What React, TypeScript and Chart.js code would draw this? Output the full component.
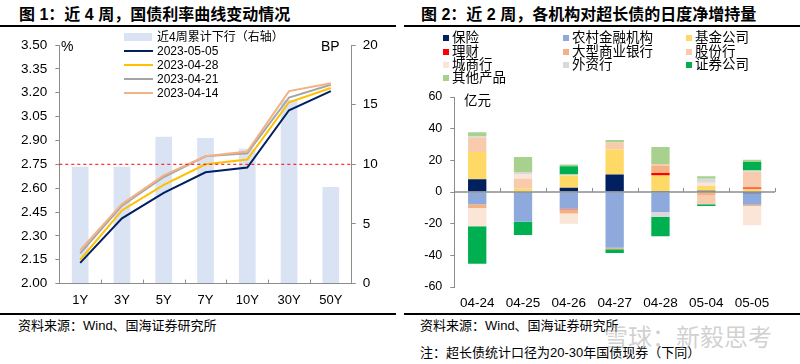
import React, { useEffect, useRef } from 'react';
import { Chart, registerables } from 'chart.js';
Chart.register(...registerables);

// ---------- Chart 1 data ----------
const tenors = ['1Y', '3Y', '5Y', '7Y', '10Y', '30Y', '50Y'];
const cumDecline = [9.8, 9.8, 12.3, 12.2, 11.3, 15.4, 8.1];
const curve0505 = [2.13, 2.41, 2.57, 2.70, 2.73, 3.09, 3.21];
const curve0428 = [2.15, 2.46, 2.62, 2.75, 2.78, 3.14, 3.23];
const curve0421 = [2.19, 2.49, 2.67, 2.80, 2.82, 3.17, 3.25];
const curve0414 = [2.21, 2.50, 2.68, 2.80, 2.83, 3.21, 3.26];
const refYield = 2.75;

// ---------- Chart 2 data ----------
const dates = ['04-24', '04-25', '04-26', '04-27', '04-28', '05-04', '05-05'];
const insurance = [8.0, -0.5, 2.7, 11.0, 0.6, 0.8, -0.8];
const ruralFin = [-7.8, -18.3, -10.5, -35.2, -12.6, 0, -7.2];
const funds = [17.3, 2.1, 7.8, 15.8, 9.9, 3.0, 2.1];
const wealthMgmt = [0, 0, -0.4, 0, 1.5, 0, 0.8];
const bigBanks = [-2.3, 0, -2.7, -1.0, 4.4, -1.9, -0.8];
const jointStock = [9.0, 6.3, 0, 4.4, 1.3, -5.9, 10.1];
const cityBanks = [-11.6, 2.7, -6.5, 0, 0, 2.1, -12.2];
const foreignBanks = [0.8, 1.5, 0.6, 0, -3.2, 2.5, 0.6];
const securities = [-23.6, -8.4, 5.1, -2.3, -12.2, -1.0, 5.3];
const otherProducts = [2.7, 9.5, 1.1, 1.7, 10.7, 1.5, 1.5];

const FONT = '"Liberation Sans", "Noto Sans CJK SC", Arial, sans-serif';
const AX = '#8c8c8c';

const inst = [
  { name: '保险', data: insurance, color: '#002060' },
  { name: '农村金融机构', data: ruralFin, color: '#8EA9DB' },
  { name: '基金公司', data: funds, color: '#FFD966' },
  { name: '理财', data: wealthMgmt, color: '#FF0000' },
  { name: '大型商业银行', data: bigBanks, color: '#F4B183' },
  { name: '股份行', data: jointStock, color: '#F8CBAD' },
  { name: '城商行', data: cityBanks, color: '#FBE5D6' },
  { name: '外资行', data: foreignBanks, color: '#D9D9D9' },
  { name: '证券公司', data: securities, color: '#00B050' },
  { name: '其他产品', data: otherProducts, color: '#A9D18E' },
];

const curves = [
  { name: '2023-05-05', data: curve0505, color: '#002060', order: 4 },
  { name: '2023-04-28', data: curve0428, color: '#FFC000', order: 3 },
  { name: '2023-04-21', data: curve0421, color: '#A5A5A5', order: 2 },
  { name: '2023-04-14', data: curve0414, color: '#F4B183', order: 1 },
];

function T(props: { x: number; y: number; size: number; text: string; bold?: boolean; color?: string }) {
  const h = Math.round(props.size * 1.6);
  return (
    <div
      style={{
        position: 'absolute',
        left: props.x,
        top: props.y - h / 2,
        height: h,
        lineHeight: h + 'px',
        fontSize: props.size,
        fontWeight: props.bold ? 'bold' : 'normal',
        color: props.color || '#000',
        whiteSpace: 'nowrap',
        fontFamily: FONT,
      }}
    >
      {props.text}
    </div>
  );
}

export default function App() {
  const leftRef = useRef<HTMLCanvasElement>(null);
  const rightRef = useRef<HTMLCanvasElement>(null);

  useEffect(() => {
    const leftExtras = {
      id: 'leftExtras',
      afterDatasetsDraw(chart: any) {
        const { ctx, chartArea, scales } = chart;
        const yy = scales.y.getPixelForValue(refYield);
        ctx.save();
        ctx.strokeStyle = '#FF0000';
        ctx.lineWidth = 1;
        ctx.setLineDash([3, 3]);
        ctx.beginPath();
        ctx.moveTo(chartArea.left, yy);
        ctx.lineTo(chartArea.right, yy);
        ctx.stroke();
        ctx.setLineDash([]);
        const n = tenors.length;
        const w = (chartArea.right - chartArea.left) / n;
        ctx.strokeStyle = AX;
        ctx.beginPath();
        for (let k = 1; k < n; k++) {
          const px = Math.round(chartArea.left + k * w) + 0.5;
          ctx.moveTo(px, chartArea.bottom);
          ctx.lineTo(px, chartArea.bottom - 4);
        }
        ctx.stroke();
        ctx.restore();
      },
    };

    const rightExtras = {
      id: 'rightExtras',
      afterDatasetsDraw(chart: any) {
        const { ctx, chartArea, scales } = chart;
        const y0 = scales.y.getPixelForValue(0);
        ctx.save();
        ctx.strokeStyle = AX;
        ctx.lineWidth = 1.5;
        ctx.beginPath();
        ctx.moveTo(chartArea.left, y0);
        ctx.lineTo(chartArea.right, y0);
        ctx.stroke();
        ctx.lineWidth = 1;
        const n = dates.length;
        const w = (chartArea.right - chartArea.left) / n;
        ctx.beginPath();
        for (let k = 1; k <= n; k++) {
          const px = Math.round(chartArea.left + k * w) + 0.5;
          ctx.moveTo(px, y0);
          ctx.lineTo(px, y0 - 4);
        }
        ctx.stroke();
        ctx.restore();
      },
    };

    const c1 = new Chart(leftRef.current as HTMLCanvasElement, {
      type: 'bar',
      data: {
        labels: tenors,
        datasets: [
          {
            type: 'bar',
            label: '近4周累计下行（右轴）',
            data: cumDecline,
            yAxisID: 'y1',
            backgroundColor: '#DAE3F3',
            barPercentage: 0.4,
            categoryPercentage: 1,
            order: 10,
          } as any,
          ...curves.map((c) => ({
            type: 'line',
            label: c.name,
            data: c.data,
            yAxisID: 'y',
            borderColor: c.color,
            backgroundColor: c.color,
            borderWidth: 2,
            pointRadius: 0,
            tension: 0,
            order: c.order,
          })),
        ],
      } as any,
      options: {
        responsive: false,
        animation: false,
        devicePixelRatio: 1,
        layout: { padding: { top: 17, left: 0, right: 0, bottom: 0 } },
        plugins: { legend: { display: false }, tooltip: { enabled: false } },
        scales: {
          x: {
            grid: { display: true, drawOnChartArea: false, drawTicks: false },
            border: { display: true, color: AX, width: 1 },
            ticks: { font: { family: FONT, size: 13 }, color: '#000', padding: 9, maxRotation: 0, minRotation: 0, autoSkip: false },
            afterFit: (s: any) => {
              s.height = 28.4;
            },
          },
          y: {
            position: 'left',
            min: 2,
            max: 3.5,
            ticks: {
              stepSize: 0.15,
              callback: (v: any) => Number(v).toFixed(2),
              font: { family: FONT, size: 13.5 },
              color: '#000',
              padding: 8,
            },
            grid: { drawOnChartArea: false, tickLength: 4, color: AX },
            border: { color: AX },
            afterFit: (s: any) => {
              s.width = 59.3;
            },
          },
          y1: {
            position: 'right',
            min: 0,
            max: 20,
            ticks: {
              stepSize: 5,
              font: { family: FONT, size: 13.5 },
              color: '#000',
              padding: 7,
            },
            grid: { drawOnChartArea: false, tickLength: 4, color: AX },
            border: { color: AX },
            afterFit: (s: any) => {
              s.width = 48.3;
            },
          },
        },
      } as any,
      plugins: [leftExtras],
    });

    const c2 = new Chart(rightRef.current as HTMLCanvasElement, {
      type: 'bar',
      data: {
        labels: dates,
        datasets: inst.map((d) => ({
          label: d.name,
          data: d.data,
          backgroundColor: d.color,
          borderWidth: 0,
          barPercentage: 0.4,
          categoryPercentage: 1,
        })),
      },
      options: {
        responsive: false,
        animation: false,
        devicePixelRatio: 1,
        layout: { padding: { top: 69, left: 0, right: 25, bottom: 0 } },
        plugins: { legend: { display: false }, tooltip: { enabled: false } },
        scales: {
          x: {
            stacked: true,
            grid: { display: false, drawTicks: false },
            border: { display: false },
            ticks: { font: { family: FONT, size: 13.5 }, color: '#000', padding: 8, maxRotation: 0, minRotation: 0, autoSkip: false },
            afterFit: (s: any) => {
              s.height = 25;
            },
          },
          y: {
            stacked: true,
            min: -60,
            max: 60,
            ticks: { stepSize: 20, font: { family: FONT, size: 12.5 }, color: '#000', padding: 8 },
            grid: { drawOnChartArea: false, tickLength: 4, color: AX },
            border: { color: AX },
            afterFit: (s: any) => {
              s.width = 54.3;
            },
          },
        },
      } as any,
      plugins: [rightExtras],
    });

    return () => {
      c1.destroy();
      c2.destroy();
    };
  }, []);

  const colX = [443, 563, 686];
  const rowY = [38.3, 51.7, 65, 78.3];

  return (
    <div
      style={{
        position: 'fixed',
        left: 0,
        top: 0,
        width: 800,
        height: 364,
        background: '#fff',
        overflow: 'hidden',
        fontFamily: FONT,
      }}
    >
      {/* titles */}
      <T x={19} y={15} size={16} bold text="图 1：近 4 周，国债利率曲线变动情况" />
      <T x={421} y={15} size={16} bold text="图 2：近 2 周，各机构对超长债的日度净增持量" />
      <div style={{ position: 'absolute', left: 0, top: 25, width: 396, height: 1.5, background: '#000' }} />
      <div style={{ position: 'absolute', left: 404, top: 25, width: 396, height: 1.5, background: '#000' }} />

      <canvas
        ref={leftRef}
        width={400}
        height={284}
        style={{ position: 'absolute', left: 0, top: 28, width: 400, height: 284 }}
      />
      <canvas
        ref={rightRef}
        width={400}
        height={284}
        style={{ position: 'absolute', left: 400, top: 28, width: 400, height: 284 }}
      />

      {/* left axis units */}
      <T x={61} y={46} size={14} text="%" />
      <T x={321} y={46} size={14} text="BP" />

      {/* left legend */}
      <div style={{ position: 'absolute', left: 124, top: 33, width: 28, height: 8, background: '#DAE3F3' }} />
      <T x={157} y={37} size={12} text="近4周累计下行（右轴）" />
      {curves.map((c, i) => {
        const cy = [51, 65, 79, 93][i];
        return (
          <React.Fragment key={c.name}>
            <div style={{ position: 'absolute', left: 124, top: cy - 1, width: 29, height: 2, background: c.color }} />
            <T x={157} y={cy} size={12} text={c.name} />
          </React.Fragment>
        );
      })}

      {/* right legend */}
      {inst.map((d, i) => {
        const r = Math.floor(i / 3);
        const c = i % 3;
        return (
          <React.Fragment key={d.name}>
            <div
              style={{
                position: 'absolute',
                left: colX[c],
                top: rowY[r] - 3,
                width: 6,
                height: 6,
                background: d.color,
              }}
            />
            <T x={colX[c] + 9} y={rowY[r]} size={13.5} text={d.name} />
          </React.Fragment>
        );
      })}
      <T x={464} y={101} size={13.5} text="亿元" />

      {/* bottom */}
      <div style={{ position: 'absolute', left: 0, top: 313, width: 396, height: 1.5, background: '#000' }} />
      <div style={{ position: 'absolute', left: 404, top: 313, width: 396, height: 1.5, background: '#000' }} />
      <T x={18} y={325} size={13} text="资料来源：Wind、国海证券研究所" />
      <T x={420} y={325} size={13} text="资料来源：Wind、国海证券研究所" />
      <T x={420} y={352} size={13} text="注：超长债统计口径为20-30年国债现券（下同）" />
      <T x={604} y={338} size={24} text="雪球：新毅思考" color="rgba(170,170,170,0.55)" />
    </div>
  );
}
